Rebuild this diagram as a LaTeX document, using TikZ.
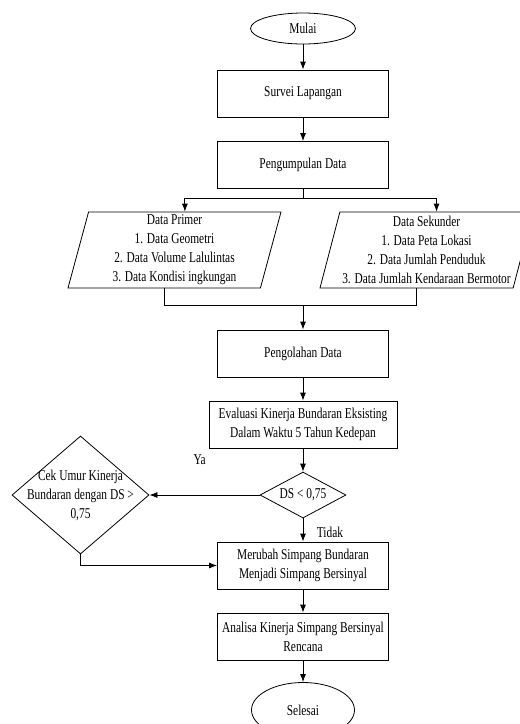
\documentclass[tikz,border=0pt]{standalone}
\usepackage{fontspec}
\setmainfont[FakeStretch=0.76]{Liberation Serif}
\usetikzlibrary{shapes,shapes.geometric,arrows,arrows.meta,calc,positioning}
\tikzset{terminal/.style={draw,ellipse}}
\tikzstyle{proses}=[draw, rectangle, minimum width=171pt, minimum height=47pt, align=center]
\tikzstyle{io}=[draw, trapezium, trapezium left angle=74.5, trapezium right angle=105.5, trapezium stretches body, minimum width=213pt, minimum height=76pt, inner sep=2pt, align=center]
\tikzstyle{keputusan}=[draw, diamond, inner sep=0pt]
\begin{document}
\begin{tikzpicture}[>={Latex[length=8pt,width=6pt]}, line width=0.8pt, auto, font=\fontsize{15}{19}\selectfont]
\useasboundingbox (0,0) rectangle (520pt,-724pt);
\node[terminal, minimum width=105pt, minimum height=31pt] (mulai) at (303pt,-28.5pt) {Mulai};
\node[proses, node distance=65pt, below of =mulai] (survei) {Survei Lapangan};
\node[proses, node distance=71.5pt, below of =survei] (kumpul) {Pengumpulan Data};
\node[io, node distance=85pt, below of =kumpul, xshift=-128.5pt] (primer) {Data Primer\\1. Data Geometri\\2. Data Volume Lalulintas\\3. Data Kondisi ingkungan};
\node[io, node distance=252pt, right of =primer] (sekunder) {Data Sekunder\\1. Data Peta Lokasi\\2. Data Jumlah Penduduk\\3. Data Jumlah Kendaraan Bermotor};
\node[proses, node distance=188.5pt, below of =kumpul] (olah) {Pengolahan Data};
\node[proses, minimum width=188pt, node distance=71pt, below of =olah] (evaluasi) {Evaluasi Kinerja Bundaran Eksisting\\Dalam Waktu 5 Tahun Kedepan};
\node[keputusan, aspect=2, minimum width=86pt, minimum height=46pt, node distance=70.5pt, below of =evaluasi] (ds) {DS < 0,75};
\node[keputusan, minimum width=137pt, minimum height=118pt, node distance=222.5pt, left of =ds] (cek) {};
\node[align=center] (cekteks) at (cek) {Cek Umur Kinerja\\Bundaran dengan DS >\\0,75};
\node[proses, node distance=70.5pt, below of =ds] (merubah) {Merubah Simpang Bundaran\\Menjadi Simpang Bersinyal};
\node[proses, node distance=71pt, below of =merubah] (analisa) {Analisa Kinerja Simpang Bersinyal\\Rencana};
\node[terminal, minimum width=103pt, minimum height=55pt, node distance=73.5pt, below of =analisa] (selesai) {Selesai};
\node (ya) at ([xshift=-60pt,yshift=35pt]ds.west) {Ya};
\node (tidak) at ([xshift=27pt,yshift=-14pt]ds.south) {Tidak};
% percabangan data
\draw (kumpul.south) -- ++(0,-9pt) coordinate (pisah);
\draw[->] (pisah) -| (primer.top side);
\draw[->] (pisah) -| (sekunder.top side);
\coordinate (gabung) at ([yshift=24pt]olah.north);
\draw (primer.bottom side) |- (gabung) -| (sekunder.bottom side);
\path[->](mulai) edge (survei)
	(survei) edge (kumpul)
	(gabung) edge (olah)
	(olah) edge (evaluasi)
	(evaluasi) edge (ds)
	(ds) edge (cek)
		edge (merubah)
	(merubah) edge (analisa)
	(analisa) edge (selesai);
\draw[->] (cek.south) |- (merubah.west);
\end{tikzpicture}
\end{document}
